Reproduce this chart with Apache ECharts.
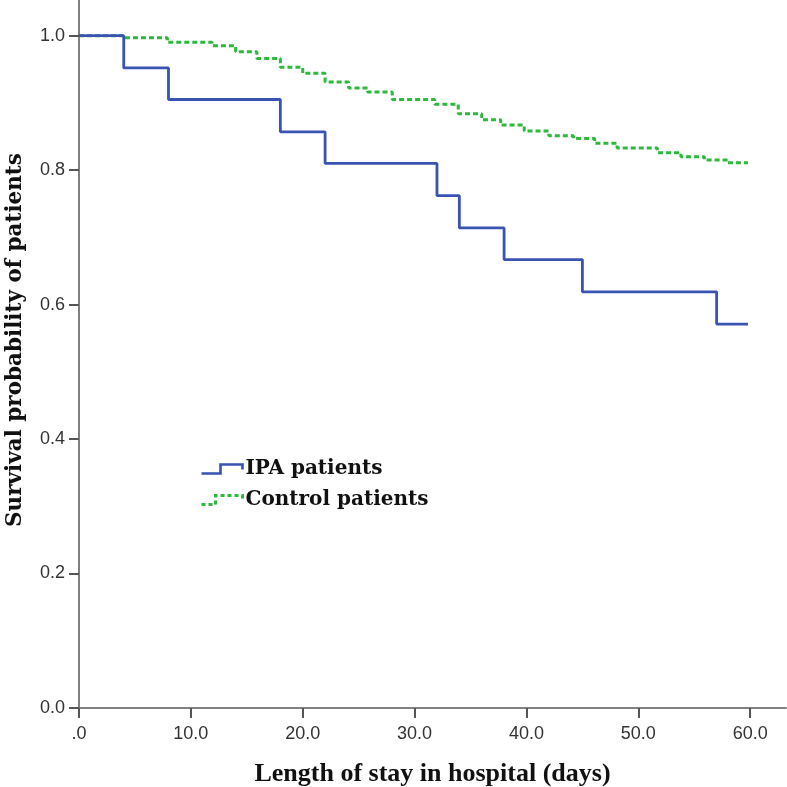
<!DOCTYPE html>
<html>
<head>
<meta charset="utf-8">
<script src="https://cdn.jsdelivr.net/npm/echarts@6/dist/echarts.min.js"></script>
<style>html,body{margin:0;padding:0;background:#fff}#c{width:787px;height:787px}</style>
</head>
<body>
<div id="c"></div>
<script>
// IPA patients (Kaplan-Meier steps: time of drop, survival after drop)
var ipaTimes = [0, 4, 8, 18, 22, 32, 34, 38, 45, 57, 59.8];
var ipaSurv  = [1.0, 0.952, 0.905, 0.857, 0.810, 0.762, 0.714, 0.667, 0.619, 0.571, 0.571];
// Control patients
var ctrlTimes = [0, 3.9, 7.9, 11.9, 14.0, 15.9, 18.0, 20.0, 22.0, 24.1, 25.8, 28.0, 31.8, 33.9, 36.0, 37.7, 39.8, 42.0, 44.2, 46.1, 48.1, 51.7, 53.8, 55.9, 58.0, 59.8];
var ctrlSurv  = [1.0, 0.997, 0.990, 0.985, 0.976, 0.966, 0.953, 0.944, 0.931, 0.922, 0.916, 0.905, 0.898, 0.884, 0.875, 0.867, 0.858, 0.851, 0.847, 0.840, 0.833, 0.826, 0.820, 0.815, 0.811, 0.811];
var seriesNames = ['IPA patients', 'Control patients'];
var xTitle = 'Length of stay in hospital (days)';
var yTitle = 'Survival probability of patients';

function pairs(xs, ys) { return xs.map(function (x, i) { return [x, ys[i]]; }); }

var blue = '#3953b2', green = '#2db83e';
var chart = echarts.init(document.getElementById('c'), null, {renderer: 'canvas'});
chart.setOption({
  animation: false,
  backgroundColor: '#ffffff',
  grid: {left: 79, right: 1, top: 0, bottom: 79, containLabel: false, outerBoundsMode: 'none'},
  legend: {
    orient: 'vertical', left: 195, top: 454, itemGap: 11,
    itemWidth: 41, itemHeight: 9,
    textStyle: {fontFamily: 'DejaVu Serif', fontWeight: 'bold', fontSize: 20, color: '#111', padding: [0, 0, 0, -2]},
    data: [
      {name: seriesNames[0], icon: 'path://M0,9 L19,9 L19,0 L41,0 L41,5',
       itemStyle: {color: 'rgba(0,0,0,0)', borderColor: blue, borderWidth: 2.6}},
      {name: seriesNames[1], icon: 'path://M0,9 L14,9 L14,0 L41,0 L41,4',
       itemStyle: {color: 'rgba(0,0,0,0)', borderColor: green, borderWidth: 3, borderType: [4, 3]}}
    ]
  },
  xAxis: {
    type: 'value', min: 0, max: 63.2, interval: 10,
    splitLine: {show: false},
    axisLine: {lineStyle: {color: '#808080', width: 2}},
    axisTick: {length: 10, lineStyle: {color: '#555', width: 2}},
    axisLabel: {showMaxLabel: false, margin: 17, fontFamily: 'Liberation Sans', fontSize: 18, color: '#333',
      formatter: function (v) { return v === 0 ? '.0' : v.toFixed(1); }},
    name: xTitle, nameLocation: 'middle', nameGap: 53,
    nameTextStyle: {fontFamily: 'Liberation Serif', fontWeight: 'bold', fontSize: 26, color: '#111'}
  },
  yAxis: {
    type: 'value', min: 0, max: 1.053, interval: 0.2,
    splitLine: {show: false},
    axisLine: {lineStyle: {color: '#808080', width: 2}},
    axisTick: {length: 10, lineStyle: {color: '#555', width: 2}},
    axisLabel: {showMaxLabel: false, margin: 14, fontFamily: 'Liberation Sans', fontSize: 18, color: '#333',
      formatter: function (v) { return v.toFixed(1); }},
    name: yTitle, nameLocation: 'middle', nameGap: 53, nameRotate: 90,
    nameTextStyle: {fontFamily: 'DejaVu Serif', fontWeight: 'bold', fontSize: 21.5, color: '#111', padding: [0, 0, 0, 28]}
  },
  series: [
    {name: seriesNames[0], type: 'line', step: 'end', symbol: 'none', data: pairs(ipaTimes, ipaSurv),
     lineStyle: {color: blue, width: 2.8}, itemStyle: {color: blue}, z: 3},
    {name: seriesNames[1], type: 'line', step: 'end', symbol: 'none', data: pairs(ctrlTimes, ctrlSurv),
     lineStyle: {color: green, width: 3, type: [5, 3]}, itemStyle: {color: green}, z: 2}
  ]
});
</script>
</body>
</html>
